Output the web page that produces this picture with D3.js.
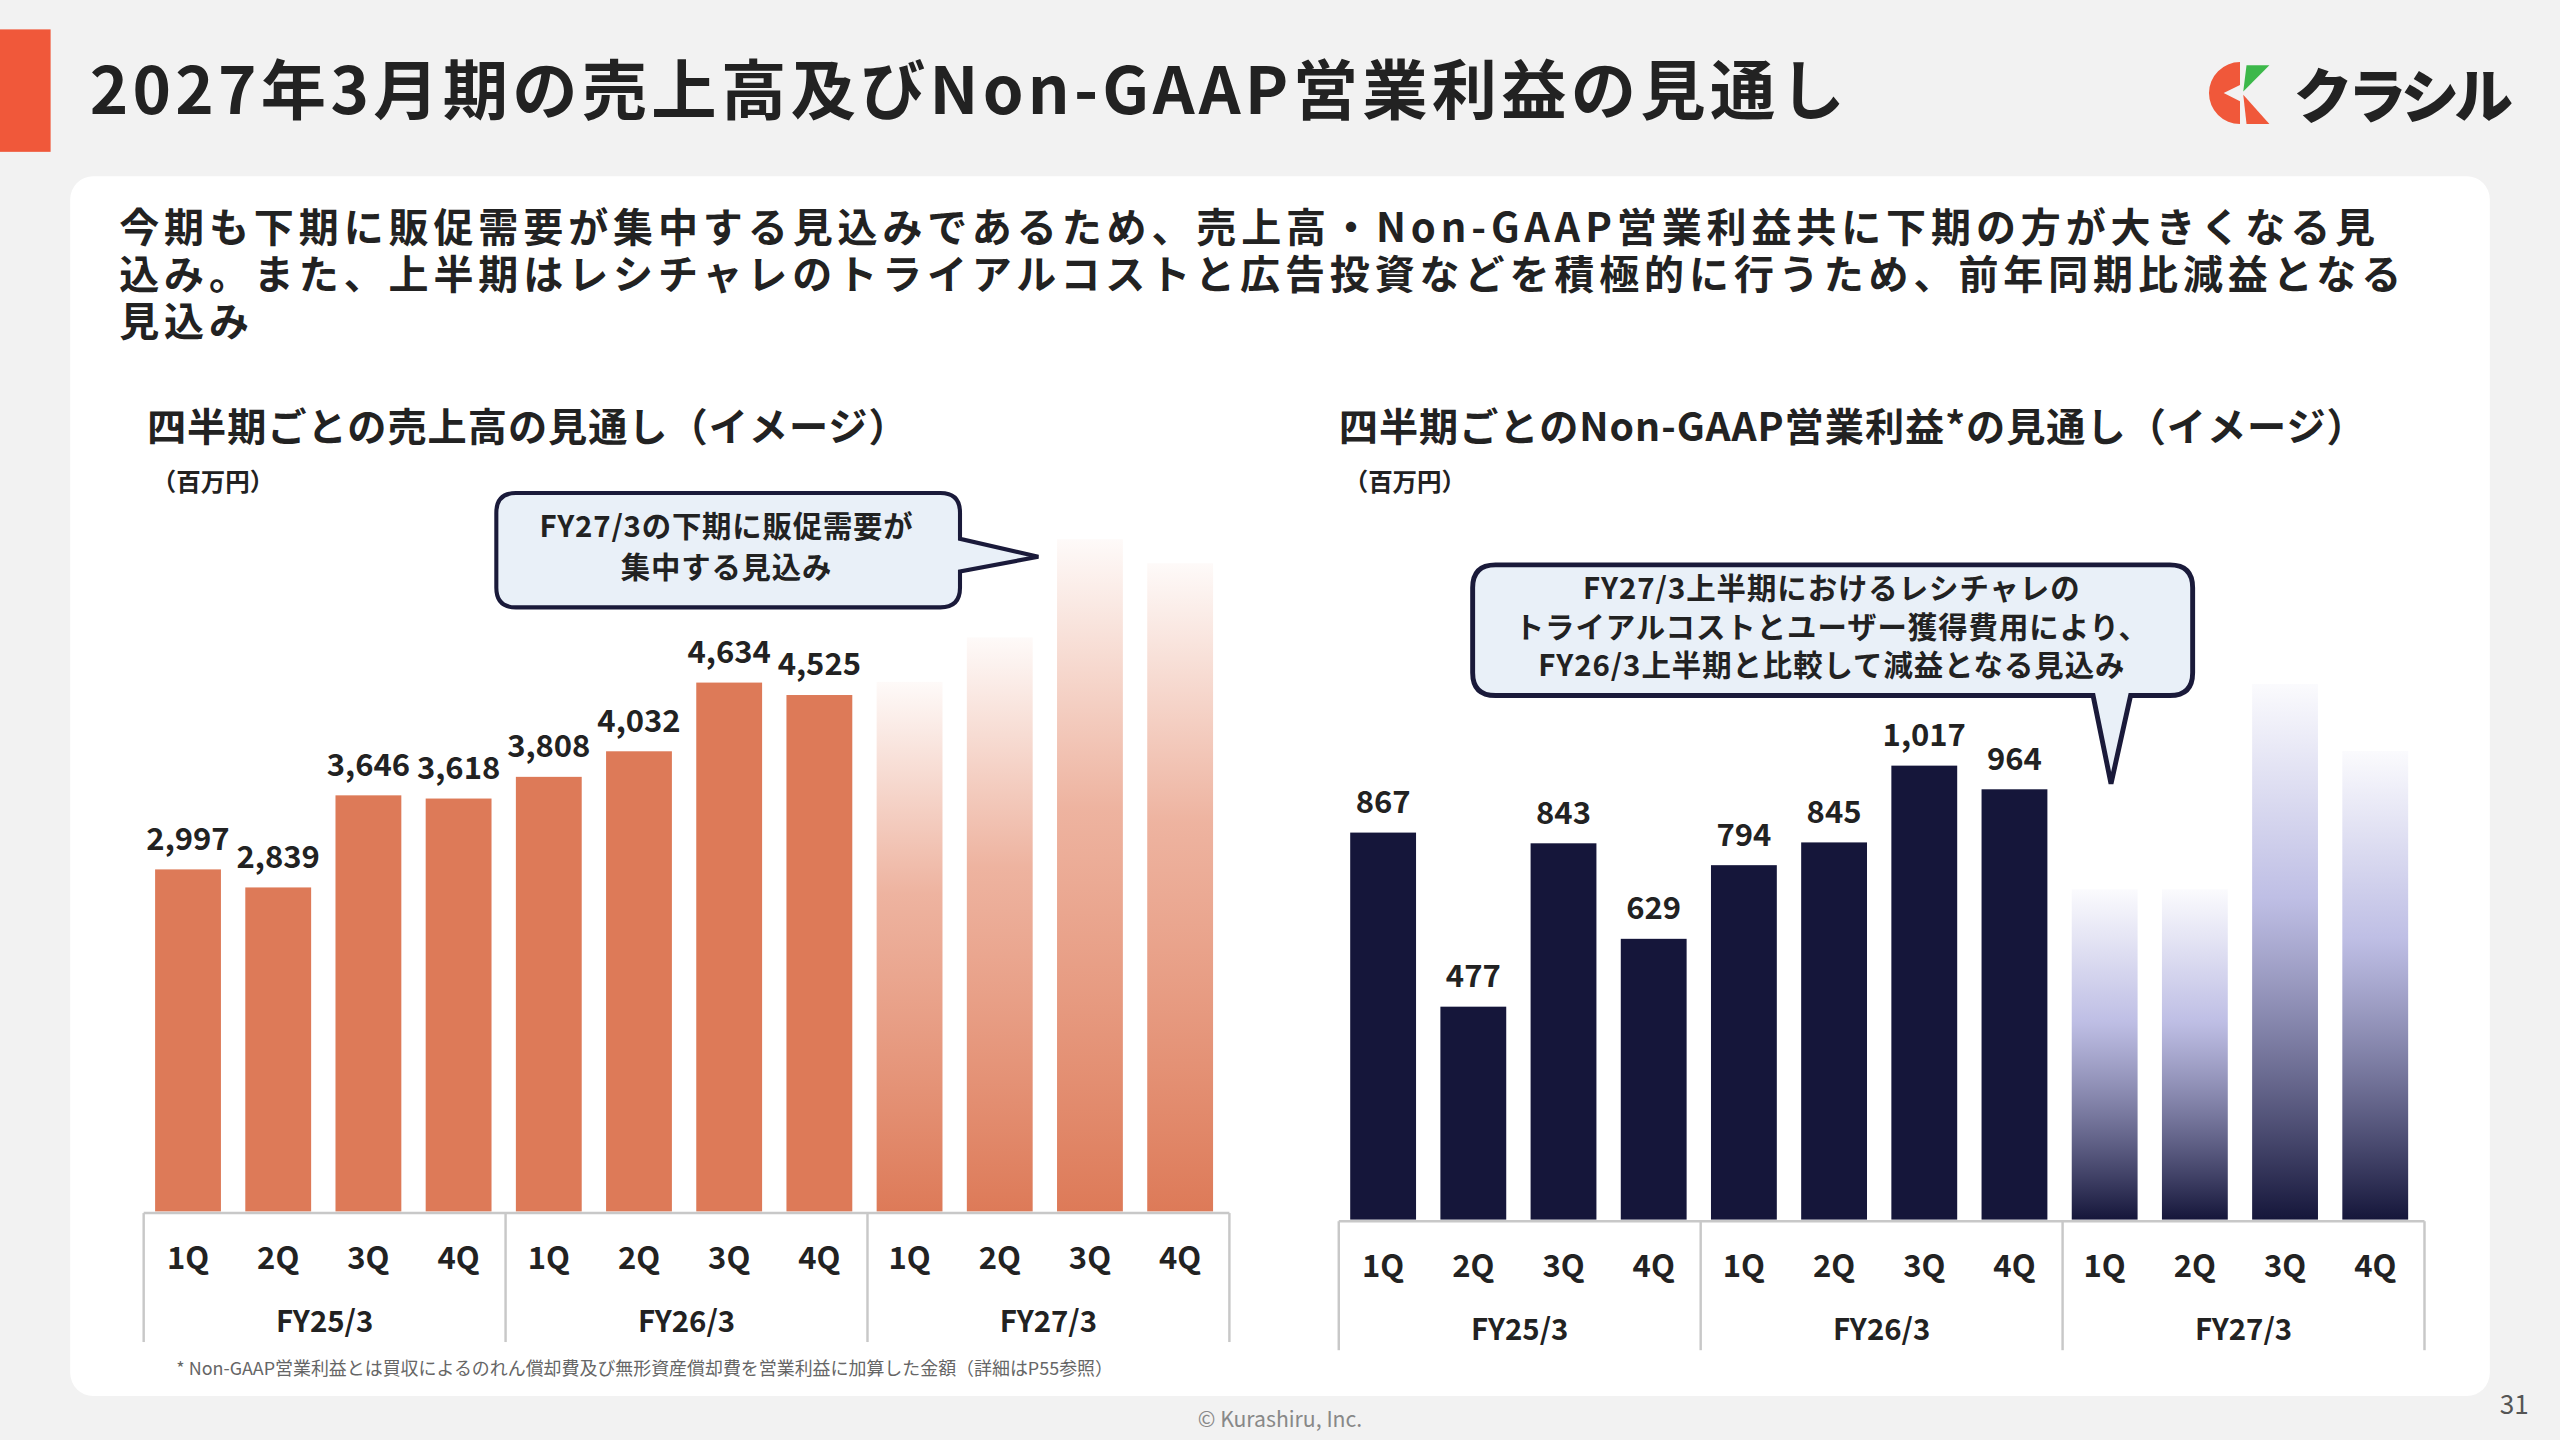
<!DOCTYPE html>
<html><head><meta charset="utf-8">
<script src="https://cdn.jsdelivr.net/npm/d3@7"></script>
<style>
  body { margin:0; background:#f2f2f2; }
  svg { display:block; font-family:"Noto Sans CJK JP","Noto Sans",sans-serif; }
</style></head>
<body>
<svg id="chart" width="2560" height="1440" viewBox="0 0 1568 882"></svg>
<script>
// data
var quarters = ["1Q","2Q","3Q","4Q","1Q","2Q","3Q","4Q","1Q","2Q","3Q","4Q"];
var years = ["FY25/3","FY26/3","FY27/3"];
var sales = [2997,2839,3646,3618,3808,4032,4634,4525];
var salesOutlook = [4640,5030,5890,5680];
var profit = [867,477,843,629,794,845,1017,964];
var profitOutlook = [740,740,1200,1050];

var svg = d3.select("#chart");
var defs = svg.append("defs");

// page chrome
svg.append("rect").attr("width",1568).attr("height",882).attr("fill","#f2f2f2");
svg.append("rect").attr("x",0).attr("y",18).attr("width",31).attr("height",75).attr("fill","#f0583a");
svg.append("text").attr("x",55).attr("y",70).attr("font-size",40).attr("font-weight",700)
  .attr("letter-spacing",2.6).attr("fill","#222").text("2027年3月期の売上高及びNon-GAAP営業利益の見通し");

// logo
svg.append("path").attr("d","M1372,38 A19,19 0 1,0 1372,76 L1372,62 L1362,57 L1372,52 Z").attr("fill","#f0583a");
svg.append("path").attr("d","M1374,56 L1390,40 L1376,40 Z").attr("fill","#3cb84a");
svg.append("path").attr("d","M1374,58 L1390,76 L1376,76 Z").attr("fill","#f0583a");
svg.append("text").attr("x",1405).attr("y",72).attr("font-size",36).attr("font-weight",900)
  .attr("fill","#222").attr("letter-spacing",-3).text("クラシル");

// white panel
svg.append("rect").attr("x",43).attr("y",108).attr("width",1482).attr("height",747)
  .attr("rx",14).attr("fill","#fff");

var para = ["今期も下期に販促需要が集中する見込みであるため、売上高・Non-GAAP営業利益共に下期の方が大きくなる見",
            "込み。また、上半期はレシチャレのトライアルコストと広告投資などを積極的に行うため、前年同期比減益となる",
            "見込み"];
svg.append("g").selectAll("text").data(para).join("text")
  .attr("x",73).attr("y",function(d,i){ return 148 + i*29; })
  .attr("font-size",24.5).attr("letter-spacing",3).attr("font-weight",700).attr("fill","#222")
  .text(function(d){ return d; });

function drawChart(opt) {
  var g = svg.append("g");
  g.append("text").attr("x",opt.titleX).attr("y",270).attr("font-size",24).attr("font-weight",700)
    .attr("letter-spacing",0.6).attr("fill","#222").text(opt.title);
  g.append("text").attr("x",opt.titleX+3).attr("y",301).attr("font-size",15).attr("font-weight",700)
    .attr("fill","#222").text("（百万円）");

  var x = d3.scaleBand().domain(d3.range(12)).range([opt.bx0, opt.bx1]).paddingInner(0.27).paddingOuter(0);
  var y = d3.scaleLinear().domain([0, opt.max]).range([opt.base, opt.base - opt.px * opt.max]);

  var grad = defs.append("linearGradient").attr("id", opt.id).attr("x1",0).attr("y1",0).attr("x2",0).attr("y2",1);
  grad.append("stop").attr("offset","0%").attr("stop-color",opt.midColor).attr("stop-opacity",0.05);
  grad.append("stop").attr("offset","40%").attr("stop-color",opt.midColor).attr("stop-opacity",0.75);
  grad.append("stop").attr("offset","100%").attr("stop-color",opt.color).attr("stop-opacity",1);

  var all = opt.actual.map(function(v,i){ return {i:i, v:v, f:false}; })
    .concat(opt.outlook.map(function(v,i){ return {i:i+8, v:v, f:true}; }));

  g.selectAll(".bar").data(all).join("rect")
    .attr("x",function(d){ return x(d.i); }).attr("width",x.bandwidth())
    .attr("y",function(d){ return y(d.v); }).attr("height",function(d){ return opt.base - y(d.v); })
    .attr("fill",function(d){ return d.f ? "url(#"+opt.id+")" : opt.color; });

  g.selectAll(".lbl").data(all.filter(function(d){ return !d.f; })).join("text")
    .attr("x",function(d){ return x(d.i) + x.bandwidth()/2; })
    .attr("y",function(d){ return y(d.v) - 12; })
    .attr("text-anchor","middle").attr("font-size",19).attr("font-weight",700).attr("fill","#222")
    .text(function(d){ return d3.format(",")(d.v); });

  // category table
  var left = opt.bx0 - 7, right = opt.bx1 + 10, w = (right-left)/3;
  g.append("line").attr("x1",left).attr("x2",right).attr("y1",opt.base+1).attr("y2",opt.base+1)
    .attr("stroke","#c8c8c8").attr("stroke-width",1.5);
  d3.range(4).forEach(function(k){
    g.append("line").attr("x1",left+k*w).attr("x2",left+k*w).attr("y1",opt.base+1).attr("y2",opt.base+80)
      .attr("stroke","#c8c8c8").attr("stroke-width",1.5);
  });
  g.selectAll(".q").data(quarters).join("text")
    .attr("x",function(d,i){ return x(i) + x.bandwidth()/2; }).attr("y",opt.base+35)
    .attr("text-anchor","middle").attr("font-size",19).attr("font-weight",700).attr("fill","#222")
    .text(function(d){ return d; });
  g.selectAll(".fy").data(years).join("text")
    .attr("x",function(d,i){ return left + w*i + w/2; }).attr("y",opt.base+74)
    .attr("text-anchor","middle").attr("font-size",18).attr("font-weight",700).attr("fill","#222")
    .text(function(d){ return d; });
}

drawChart({id:"gs", title:"四半期ごとの売上高の見通し（イメージ）", titleX:90, bx0:95, bx1:743, base:742,
  max:6000, px:0.0699, actual:sales, outlook:salesOutlook,
  color:"#dd7a58", midColor:"#e89a80"});
drawChart({id:"gp", title:"四半期ごとのNon-GAAP営業利益*の見通し（イメージ）", titleX:820, bx0:827, bx1:1475, base:747,
  max:1300, px:0.2734, actual:profit, outlook:profitOutlook,
  color:"#15163a", midColor:"#a9a9dc"});

// callouts
svg.append("path")
  .attr("d","M316,302 H576 Q588,302 588,314 V330 L636,341 L588,350 V360 Q588,372 576,372 H316 Q304,372 304,360 V314 Q304,302 316,302 Z")
  .attr("fill","#e9f0f8").attr("stroke","#1a1a3a").attr("stroke-width",2.5);
svg.append("g").selectAll("text").data(["FY27/3の下期に販促需要が","集中する見込み"]).join("text")
  .attr("x",445).attr("y",function(d,i){ return 329 + i*25; }).attr("text-anchor","middle")
  .attr("font-size",18).attr("letter-spacing",0.5).attr("font-weight",700).attr("fill","#222").text(function(d){ return d; });

svg.append("path")
  .attr("d","M916,346 H1329 Q1343,346 1343,360 V412 Q1343,426 1329,426 H1305 L1293,480 L1282,426 H916 Q902,426 902,412 V360 Q902,346 916,346 Z")
  .attr("fill","#e9f0f8").attr("stroke","#1a1a3a").attr("stroke-width",3);
svg.append("g").selectAll("text")
  .data(["FY27/3上半期におけるレシチャレの","トライアルコストとユーザー獲得費用により、","FY26/3上半期と比較して減益となる見込み"]).join("text")
  .attr("x",1122).attr("y",function(d,i){ return 367 + i*23.5; }).attr("text-anchor","middle")
  .attr("font-size",18).attr("letter-spacing",0.6).attr("font-weight",700).attr("fill","#222").text(function(d){ return d; });

// footer
svg.append("text").attr("x",108).attr("y",842).attr("font-size",11).attr("fill","#666")
  .text("* Non-GAAP営業利益とは買収によるのれん償却費及び無形資産償却費を営業利益に加算した金額（詳細はP55参照）");
svg.append("text").attr("x",784).attr("y",874).attr("text-anchor","middle").attr("font-size",13).attr("fill","#888")
  .text("© Kurashiru, Inc.");
svg.append("text").attr("x",1540).attr("y",866).attr("text-anchor","middle").attr("font-size",16).attr("fill","#555").text("31");
</script>
</body></html>
